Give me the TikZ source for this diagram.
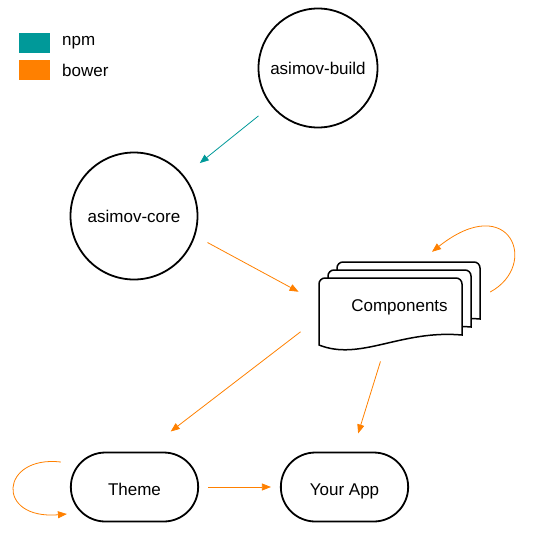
\documentclass[tikz,border=0pt]{standalone}
\usepackage{fontspec}
\setmainfont{Liberation Sans}
\usetikzlibrary{arrows.meta, calc, shapes.misc}

\definecolor{npmcol}{RGB}{0,153,153}
\definecolor{bowercol}{RGB}{255,128,0}

\begin{document}
\begin{tikzpicture}[x=1pt, y=-1pt,
  every node/.style = {font=\fontsize{17}{20}\selectfont},
  pkg/.style = {shape=circle, draw, line width=1.8pt, minimum size=119pt, inner sep=0pt},
  blob/.style = {shape=rounded rectangle, draw, line width=1.8pt, minimum width=134pt, minimum height=69pt,
    text height=19pt, text depth=2pt},
  doc/.style = {draw, line width=1.5pt, fill=white},
  key/.style = {shape=rectangle, minimum width=31pt, minimum height=20pt, inner sep=0pt},
  npm/.style = {draw=npmcol, line width=0.8pt, -{Triangle[length=9pt, width=7pt]}},
  bower/.style = {draw=bowercol, line width=0.8pt, -{Triangle[length=9pt, width=7pt]}}]

  \useasboundingbox (0,0) rectangle (540,536);

  % legend
  \node[key, fill=npmcol] (npmkey) at (34.5,43) {};
  \node[anchor=west, inner sep=0pt] (npmtext) at (62,43) {npm};
  \node[key, fill=bowercol] (bowerkey) at (34.5,70) {};
  \node[anchor=west, inner sep=0pt] (bowertext) at (62,70) {bower};

  \node[pkg] (build) at (318,68) {asimov-build};
  \node[pkg, minimum size=127pt] (core) at (134,216) {asimov-core};

  % stacked documents
  \node[shape=rectangle, minimum width=143pt, minimum height=67pt] (comp) at (390.5,311.5) {};
  \begin{scope}[shift={(comp.center)}]
    \foreach \dx/\dy in {18/-16, 9/-8, 0/0}
      \draw[doc, shift={(\dx,\dy)}] (-71.5,33.5) [rounded corners=6pt] -- (-71.5,-33.5)
        -- (71.5,-33.5) [sharp corners] -- (71.5,23.5)
        .. controls (10,18) and (-30,50) .. (-71.5,33.5) -- cycle;
  \end{scope}
  \node[inner sep=0pt] (comptext) at ([xshift=9pt, yshift=4pt]comp.center) {Components};

  \node[blob] (theme) at (134.5,487) {Theme};
  \node[blob] (app) at (344.5,487) {Your App};

  % dependencies
  \draw[npm, shorten <=16pt, shorten >=20pt] (build) -- (core);
  \draw[bower, shorten <=14pt, shorten >=23pt] (core.-18) -- (comp.173);
  \draw[bower, shorten <=23pt, shorten >=33pt] (comp.185) -- ([xshift=10pt]theme.north);
  \draw[bower, shorten <=17pt, shorten >=19pt] ([xshift=-5pt]comp.south) -- ([xshift=8pt]app.north);
  \draw[bower, shorten <=9pt, shorten >=9pt] (theme.east) -- (app.west);

  % self references
  \draw[bower] ($(comp.east)+(28,-19.5)$) .. controls (540,265) and (510,190) .. ($(comp.north)+(41.5,-26)$);
  \draw[bower] ($(theme.west)+(-9,-25)$) .. controls (0,455) and (-5,520) .. ($(theme.west)+(-3,27)$);
\end{tikzpicture}
\end{document}
